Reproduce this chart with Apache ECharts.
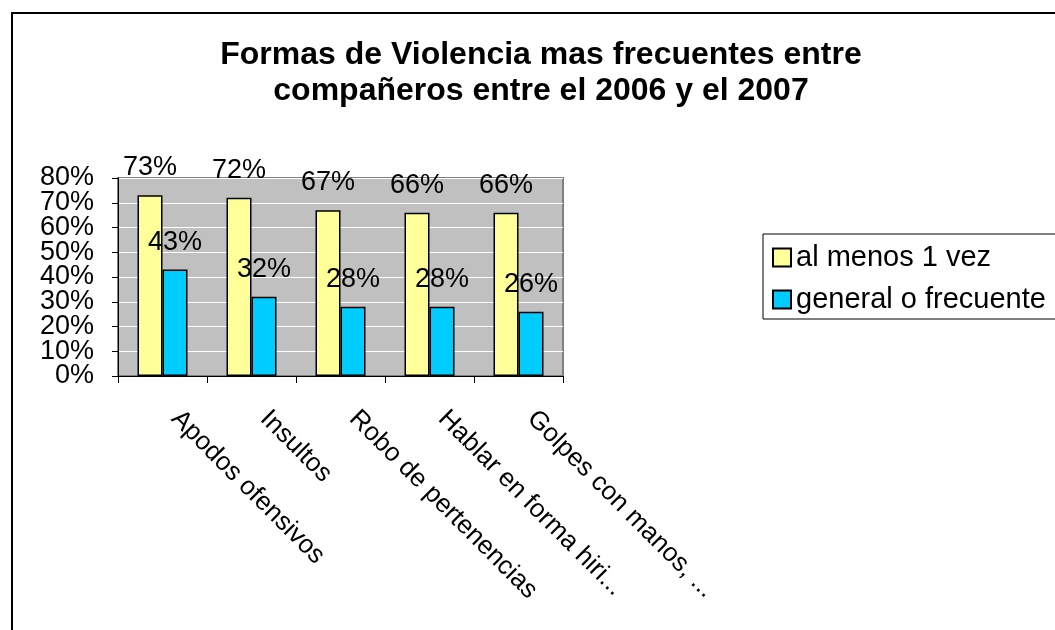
<!DOCTYPE html>
<html>
<head>
<meta charset="utf-8">
<script src="https://cdn.jsdelivr.net/npm/echarts@6/dist/echarts.min.js"></script>
<style>
  html, body { margin: 0; padding: 0; background: #fff; }
  #chart { width: 1055px; height: 630px; }
</style>
</head>
<body>
<div id="chart"></div>
<script>
const categories = ['Apodos ofensivos', 'Insultos', 'Robo de pertenencias', 'Hablar en forma hiri...', 'Golpes con manos, ...'];
const alMenos = [73, 72, 67, 66, 66];
const frecuente = [43, 32, 28, 28, 26];
const seriesNames = ['al menos 1 vez', 'general o frecuente'];

const font = "'Liberation Sans', Arial, sans-serif";

const chart = echarts.init(document.getElementById('chart'));

const labelOpt = {
  show: true,
  position: 'top',
  distance: 14,
  formatter: '{c}%',
  color: '#000',
  fontSize: 27,
  fontFamily: font
};

// the tick labels overlap in the original, so split them over two stacked axes
// (even tens on one, odd tens on the other) to keep echarts from dropping any
const yLabel = (keepEven) => ({
  formatter: v => ((v / 10) % 2 === 0) === keepEven ? v + '%' : '',
  margin: 24,
  showMinLabel: true,
  showMaxLabel: true,
  color: '#000',
  fontSize: 27,
  fontFamily: font
});

chart.setOption({
  animation: false,
  title: {
    text: 'Formas de Violencia mas frecuentes entre\ncompañeros entre el 2006 y el 2007',
    left: 541,
    textAlign: 'center',
    top: 37,
    padding: 0,
    textStyle: { fontSize: 32, fontWeight: 'bold', color: '#000', fontFamily: font, lineHeight: 36 }
  },
  legend: {
    orient: 'vertical',
    left: 763,
    top: 234,
    padding: [9, 40, 5, 9],
    itemWidth: 18,
    itemHeight: 18,
    itemGap: 13,
    borderColor: '#000',
    borderWidth: 1,
    textStyle: { fontSize: 29, color: '#000', fontFamily: font },
    data: seriesNames.map(n => ({ name: n, icon: 'rect' }))
  },
  graphic: [{
    type: 'rect',
    shape: { x: 12, y: 13, width: 1100, height: 700 },
    style: { fill: 'none', stroke: '#000', lineWidth: 2 },
    silent: true
  }],
  grid: {
    left: 118, right: 492, top: 178, bottom: 254,
    show: true,
    backgroundColor: '#C0C0C0',
    borderColor: '#808080',
    borderWidth: 2
  },
  xAxis: {
    type: 'category',
    data: categories,
    axisLine: { lineStyle: { color: '#000', width: 1 } },
    axisTick: { show: true, length: 7, lineStyle: { color: '#000' } },
    axisLabel: {
      rotate: -45,
      interval: 0,
      margin: 26,
      padding: [0, 0, 0, 18],
      color: '#000',
      fontSize: 26,
      fontFamily: font
    }
  },
  yAxis: [
    {
      type: 'value',
      position: 'left',
      min: 0,
      max: 80,
      interval: 10,
      axisLine: { show: true, lineStyle: { color: '#000', width: 1 } },
      axisTick: { show: true, length: 6, lineStyle: { color: '#000' } },
      splitLine: { lineStyle: { color: '#fff', width: 1 } },
      axisLabel: yLabel(true)
    },
    {
      type: 'value',
      position: 'left',
      offset: 0,
      min: 0,
      max: 80,
      interval: 10,
      axisLine: { show: false },
      axisTick: { show: false },
      splitLine: { show: false },
      axisLabel: yLabel(false)
    }
  ],
  series: [
    {
      name: seriesNames[0],
      type: 'bar',
      data: alMenos,
      barWidth: 25,
      barGap: '0%',
      itemStyle: { color: '#FFFF99', borderColor: '#000', borderWidth: 1.5 },
      label: labelOpt
    },
    {
      name: seriesNames[1],
      type: 'bar',
      data: frecuente,
      barWidth: 25,
      barGap: '0%',
      itemStyle: { color: '#00CCFF', borderColor: '#000', borderWidth: 1.5 },
      label: labelOpt
    }
  ]
});
</script>
</body>
</html>
